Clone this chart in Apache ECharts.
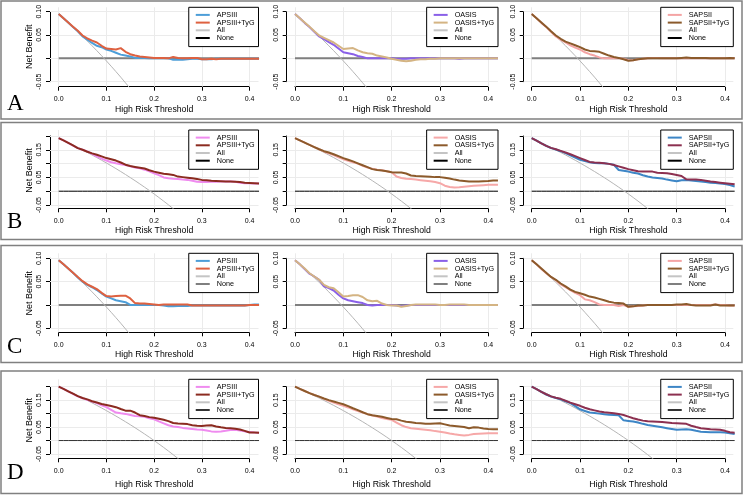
<!DOCTYPE html>
<html><head><meta charset="utf-8">
<script src="https://cdn.jsdelivr.net/npm/echarts@6/dist/echarts.min.js"></script>
<style>html,body{margin:0;padding:0;background:#fff}#c{width:744px;height:495px}</style>
</head><body><div id="c"></div>
<script>
// ---------------- DATA ----------------
const thresholds = [0.00,0.01,0.02,0.03,0.04,0.05,0.06,0.07,0.08,0.09,
  0.10,0.11,0.12,0.13,0.14,0.15,0.16,0.17,0.18,0.19,
  0.20,0.21,0.22,0.23,0.24,0.25,0.26,0.27,0.28,0.29,
  0.30,0.31,0.32,0.33,0.34,0.35,0.36,0.37,0.38,0.39,
  0.40,0.41,0.42];
const rowKeys = ['A','B','C','D'];
const modelNames = [['APSIII','APSIII+TyG'],['OASIS','OASIS+TyG'],['SAPSII','SAPSII+TyG']];
const allName = 'All', noneName = 'None';
const noneBenefit = 0;
const xTicks = [0,0.1,0.2,0.3,0.4];
const xTickLabels = ['0.0','0.1','0.2','0.3','0.4'];
const yTicksAC = [-0.05,0,0.05,0.10];
const yTickLabelsAC = ['-0.05','','0.05','0.10'];
const yTicksBD = [-0.05,0,0.05,0.10,0.15,0.20];
const yTickLabelsBD = ['-0.05','','0.05','','0.15',''];
const xTitle = 'High Risk Threshold';
const yTitle = 'Net Benefit';

// "All" strategy (treat all), per row
const A_All = [0.095,0.0859,0.0765,0.0670,0.0573,0.0474,0.0373,0.0270,0.0164,0.0056,-0.0055,-0.0168,-0.0284,-0.0402,-0.0524,-0.0647,-0.0774];
const B_All = [0.192,0.1838,0.1755,0.1670,0.1583,0.1495,0.1404,0.1312,0.1217,0.1121,0.1022,0.0921,0.0818,0.0713,0.0605,0.0494,0.0381,0.0265,0.0146,0.0025,-0.0100,-0.0228,-0.0359,-0.0493,-0.0632,-0.0773];
const C_All = [0.096,0.0869,0.0776,0.0681,0.0583,0.0484,0.0383,0.0280,0.0174,0.0066,-0.0044,-0.0157,-0.0273,-0.0391,-0.0512,-0.0635,-0.0762];
const D_All = [0.200,0.1919,0.1837,0.1753,0.1667,0.1579,0.1489,0.1398,0.1304,0.1209,0.1111,0.1011,0.0909,0.0805,0.0698,0.0588,0.0476,0.0361,0.0244,0.0123,0.0000,-0.0127,-0.0256,-0.0390,-0.0526,-0.0667,-0.0811];

// Row A
const A_APSIII = [0.095,0.086,0.077,0.067,0.058,0.047,0.040,0.033,0.027,0.024,
  0.019,0.016,0.012,0.008,0.006,0.004,0.001,0.001,0.001,0.000,
  0.000,0.000,0.000,0.000,-0.003,-0.003,-0.003,-0.002,-0.001,-0.001,
  -0.002,-0.002,-0.002,-0.001,-0.001,-0.001,-0.001,-0.001,-0.001,-0.001,
  -0.001,-0.001,-0.001];
const A_APSIII_TyG = [0.095,0.086,0.077,0.068,0.059,0.049,0.043,0.038,0.034,0.027,
  0.021,0.020,0.019,0.022,0.014,0.009,0.006,0.004,0.003,0.002,
  0.001,0.001,0.001,0.000,0.003,0.001,0.000,0.000,0.001,0.001,
  -0.002,-0.002,-0.001,-0.002,-0.001,-0.001,-0.001,-0.001,-0.001,-0.001,
  -0.001,-0.001,-0.001];
const A_OASIS = [0.095,0.086,0.076,0.067,0.057,0.047,0.041,0.035,0.029,0.021,
  0.013,0.011,0.009,0.005,0.003,0.000,0.000,0.000,0.000,0.000,
  0.000,-0.001,-0.001,-0.001,0.000,0.000,0.000,0.000,0.000,0.000,
  0.000,0.000,0.000,0.000,-0.001,0.000,0.000,0.000,0.000,0.000,
  0.000,0.000,0.000];
const A_OASIS_TyG = [0.095,0.086,0.077,0.068,0.058,0.049,0.044,0.039,0.034,0.027,
  0.020,0.021,0.022,0.017,0.013,0.011,0.010,0.006,0.004,0.002,
  -0.001,-0.003,-0.005,-0.006,-0.005,-0.003,-0.002,-0.002,-0.001,-0.001,
  0.000,0.000,0.000,0.000,0.000,0.000,0.000,0.000,0.000,0.000,
  0.000,0.000,0.000];
const A_SAPSII = [0.095,0.086,0.076,0.067,0.057,0.047,0.040,0.034,0.028,0.023,
  0.019,0.013,0.009,0.006,0.002,0.000,0.000,0.000,0.000,-0.001,
  -0.004,-0.004,-0.002,-0.001,0.000,0.001,0.001,0.000,0.000,0.000,
  0.000,0.000,0.000,0.001,0.000,0.000,0.000,0.000,0.000,0.000,
  0.000,0.000,0.000];
const A_SAPSII_TyG = [0.095,0.086,0.077,0.068,0.058,0.049,0.042,0.036,0.032,0.028,
  0.024,0.019,0.016,0.015,0.014,0.010,0.006,0.003,0.001,-0.002,
  -0.005,-0.004,-0.002,-0.001,0.000,0.000,0.000,0.000,0.000,0.000,
  0.000,0.001,0.002,0.001,0.001,0.001,0.001,0.000,0.000,0.000,
  0.000,0.001,0.000];

// Row B
const B_APSIII = [0.192,0.184,0.175,0.165,0.156,0.150,0.144,0.135,0.126,0.118,
  0.111,0.105,0.101,0.098,0.095,0.090,0.086,0.083,0.078,0.072,
  0.065,0.058,0.050,0.047,0.045,0.044,0.042,0.041,0.038,0.034,
  0.033,0.033,0.034,0.034,0.035,0.035,0.035,0.034,0.031,0.029,
  0.029,0.028,0.028];
const B_APSIII_TyG = [0.192,0.184,0.175,0.166,0.156,0.150,0.143,0.137,0.132,0.126,
  0.120,0.116,0.111,0.104,0.096,0.091,0.088,0.085,0.082,0.076,
  0.071,0.067,0.063,0.061,0.059,0.053,0.051,0.049,0.047,0.044,
  0.041,0.040,0.038,0.037,0.036,0.035,0.035,0.034,0.033,0.031,
  0.030,0.029,0.028];
const B_OASIS = [0.192,0.184,0.176,0.168,0.160,0.152,0.144,0.137,0.131,0.123,
  0.116,0.110,0.105,0.100,0.092,0.086,0.081,0.078,0.076,0.072,
  0.069,0.053,0.048,0.045,0.044,0.042,0.040,0.038,0.036,0.033,
  0.029,0.020,0.015,0.013,0.014,0.016,0.018,0.020,0.021,0.022,
  0.023,0.023,0.023];
const B_OASIS_TyG = [0.192,0.184,0.176,0.168,0.160,0.152,0.145,0.140,0.134,0.127,
  0.120,0.114,0.108,0.101,0.094,0.087,0.080,0.077,0.075,0.072,
  0.069,0.068,0.068,0.064,0.057,0.055,0.054,0.053,0.052,0.051,
  0.051,0.049,0.046,0.042,0.039,0.037,0.035,0.035,0.035,0.036,
  0.037,0.039,0.039];
const B_SAPSII = [0.192,0.183,0.173,0.164,0.156,0.151,0.145,0.138,0.130,0.122,
  0.114,0.109,0.105,0.102,0.101,0.101,0.099,0.096,0.077,0.074,
  0.071,0.067,0.064,0.058,0.053,0.050,0.048,0.046,0.042,0.039,
  0.036,0.040,0.041,0.039,0.037,0.035,0.033,0.031,0.030,0.028,
  0.026,0.022,0.017];
const B_SAPSII_TyG = [0.192,0.183,0.173,0.164,0.157,0.152,0.146,0.140,0.134,0.127,
  0.120,0.113,0.106,0.104,0.103,0.101,0.099,0.095,0.090,0.085,
  0.080,0.076,0.072,0.071,0.071,0.071,0.067,0.066,0.065,0.062,
  0.059,0.055,0.043,0.042,0.042,0.041,0.038,0.035,0.033,0.031,
  0.029,0.027,0.025];

// Row C
const C_APSIII = [0.096,0.087,0.078,0.069,0.059,0.050,0.043,0.038,0.032,0.025,
  0.018,0.014,0.010,0.008,0.006,0.000,0.000,0.000,0.000,0.000,
  0.000,0.000,-0.001,-0.003,-0.003,-0.002,-0.002,-0.002,-0.001,-0.001,
  -0.001,-0.001,-0.001,-0.001,-0.001,-0.001,-0.001,-0.001,-0.001,-0.001,
  0.000,0.001,0.001];
const C_APSIII_TyG = [0.096,0.087,0.078,0.069,0.060,0.051,0.044,0.039,0.034,0.026,
  0.019,0.018,0.019,0.020,0.020,0.014,0.004,0.003,0.003,0.002,
  0.001,0.000,0.001,0.001,0.001,0.001,0.001,0.001,-0.001,-0.001,
  -0.001,-0.001,-0.001,-0.001,-0.001,-0.001,-0.001,-0.001,-0.001,-0.001,
  0.000,0.000,0.000];
const C_OASIS = [0.096,0.087,0.077,0.067,0.061,0.054,0.040,0.036,0.031,0.022,
  0.014,0.010,0.008,0.006,0.004,0.000,-0.001,0.000,0.000,0.000,
  0.000,-0.001,-0.002,-0.001,0.000,0.000,0.000,0.000,0.000,0.000,
  0.000,0.000,0.000,0.000,0.000,0.000,0.000,0.000,0.000,0.000,
  0.000,0.000,0.000];
const C_OASIS_TyG = [0.096,0.087,0.078,0.068,0.061,0.054,0.043,0.038,0.036,0.027,
  0.018,0.019,0.021,0.021,0.017,0.010,0.008,0.009,0.003,0.000,
  -0.001,-0.001,-0.004,-0.002,0.000,0.001,0.001,0.001,0.001,0.001,
  0.000,0.000,0.001,0.001,0.001,0.001,0.000,0.000,0.000,0.000,
  0.000,0.000,0.000];
const C_SAPSII = [0.096,0.087,0.077,0.068,0.060,0.053,0.044,0.038,0.032,0.026,
  0.021,0.012,0.010,0.006,0.001,0.000,0.000,0.000,-0.002,0.000,
  -0.004,-0.003,-0.002,-0.001,0.000,0.000,0.000,0.000,0.000,0.000,
  0.000,0.000,0.000,0.000,0.000,0.000,0.000,0.000,0.001,0.000,
  0.000,-0.001,-0.001];
const C_SAPSII_TyG = [0.096,0.087,0.078,0.069,0.060,0.054,0.046,0.040,0.033,0.028,
  0.025,0.022,0.018,0.016,0.013,0.010,0.007,0.005,0.004,0.003,
  -0.004,-0.003,-0.001,-0.001,0.000,0.000,0.000,0.000,0.000,0.000,
  0.001,0.001,0.002,0.000,-0.001,-0.001,-0.001,-0.001,0.001,-0.001,
  -0.001,-0.001,-0.001];

// Row D
const D_APSIII = [0.200,0.192,0.183,0.173,0.164,0.157,0.151,0.145,0.139,0.131,
  0.124,0.114,0.104,0.101,0.099,0.095,0.091,0.090,0.088,0.083,
  0.079,0.071,0.064,0.057,0.052,0.050,0.047,0.045,0.043,0.041,
  0.040,0.037,0.034,0.033,0.034,0.036,0.039,0.040,0.037,0.034,
  0.032,0.030,0.029];
const D_APSIII_TyG = [0.200,0.192,0.183,0.174,0.165,0.158,0.153,0.146,0.141,0.136,
  0.132,0.128,0.124,0.117,0.111,0.111,0.104,0.094,0.091,0.087,
  0.085,0.081,0.077,0.072,0.065,0.063,0.062,0.061,0.057,0.055,
  0.054,0.056,0.057,0.052,0.049,0.047,0.046,0.044,0.041,0.036,
  0.030,0.030,0.029];
const D_OASIS = [0.200,0.192,0.184,0.176,0.169,0.163,0.155,0.148,0.141,0.135,
  0.129,0.123,0.116,0.110,0.104,0.098,0.093,0.089,0.084,0.080,
  0.077,0.067,0.057,0.050,0.046,0.044,0.042,0.040,0.038,0.035,
  0.033,0.030,0.026,0.023,0.021,0.019,0.021,0.024,0.025,0.026,
  0.027,0.027,0.027];
const D_OASIS_TyG = [0.200,0.192,0.184,0.176,0.169,0.163,0.156,0.150,0.145,0.140,
  0.135,0.128,0.120,0.113,0.105,0.098,0.094,0.091,0.088,0.084,
  0.080,0.079,0.074,0.070,0.068,0.065,0.064,0.062,0.062,0.063,
  0.064,0.060,0.056,0.054,0.052,0.050,0.046,0.049,0.048,0.045,
  0.043,0.042,0.042];
const D_SAPSII = [0.200,0.191,0.181,0.171,0.163,0.158,0.153,0.146,0.139,0.128,
  0.116,0.110,0.104,0.102,0.100,0.098,0.096,0.095,0.094,0.075,
  0.073,0.071,0.067,0.062,0.058,0.055,0.052,0.049,0.046,0.043,
  0.040,0.041,0.042,0.040,0.036,0.033,0.032,0.031,0.031,0.031,
  0.030,0.027,0.024];
const D_SAPSII_TyG = [0.200,0.191,0.181,0.172,0.164,0.159,0.155,0.148,0.141,0.135,
  0.129,0.122,0.116,0.112,0.108,0.105,0.103,0.101,0.099,0.095,
  0.089,0.083,0.078,0.074,0.072,0.071,0.070,0.069,0.067,0.065,
  0.064,0.063,0.062,0.055,0.050,0.046,0.044,0.042,0.041,0.040,
  0.036,0.031,0.029];

const rowData = [
  {all: A_All, models: [[A_APSIII, A_APSIII_TyG],[A_OASIS, A_OASIS_TyG],[A_SAPSII, A_SAPSII_TyG]]},
  {all: B_All, models: [[B_APSIII, B_APSIII_TyG],[B_OASIS, B_OASIS_TyG],[B_SAPSII, B_SAPSII_TyG]]},
  {all: C_All, models: [[C_APSIII, C_APSIII_TyG],[C_OASIS, C_OASIS_TyG],[C_SAPSII, C_SAPSII_TyG]]},
  {all: D_All, models: [[D_APSIII, D_APSIII_TyG],[D_OASIS, D_OASIS_TyG],[D_SAPSII, D_SAPSII_TyG]]}
];

// ---------------- STYLE / LAYOUT ----------------
const FONT = '"Liberation Sans", Arial, Helvetica, sans-serif';
const colorsAC = [['#4d9ed8','#de6140'],['#8a60e8','#d4b483'],['#f4a4a4','#8b5a2b']];
const colorsBD = [['#ef8bef','#8b2b20'],['#f6a8a8','#8c5a2b'],['#3d86c6','#8c3050']];
const allColor = '#b5b5b5';
const colL = [
  {axisX:50, x0:58.7, x4:249.5, right:258.5},
  {axisX:286.7, x0:295, x4:488.3, right:498},
  {axisX:523.7, x0:531.7, x4:725, right:733.3}
];
const rowL = [
  {top:7.3, yT:11.7, yB:81.7, axisY:86.7, ymin:-0.05, ymax:0.10, nameGap:18, none:'#7f7f7f', noneW:2, noneLeg:'#000', letterY:103.5, frame:[1,119]},
  {top:130, yT:136, yB:205, axisY:208.3, ymin:-0.05, ymax:0.20, nameGap:18, none:'#000', noneW:1, noneLeg:'#000', letterY:222.2, frame:[122.5,239.5]},
  {top:253.3, yT:258.3, yB:328.3, axisY:332.3, ymin:-0.05, ymax:0.10, nameGap:18, none:'#7f7f7f', noneW:2, noneLeg:'#7f7f7f', letterY:346.7, frame:[245.5,362.5]},
  {top:379.3, yT:386.7, yB:454, axisY:458.3, ymin:-0.05, ymax:0.20, nameGap:22, none:'#333', noneW:1, noneLeg:'#333', letterY:472.5, frame:[371,493.5]}
];

function lookup(ticks, labels, v) {
  for (let i = 0; i < ticks.length; i++) if (Math.abs(ticks[i] - v) < 1e-9) return labels[i];
  return '';
}

const option = {animation:false, backgroundColor:'#fff', textStyle:{fontFamily:FONT},
  grid:[], xAxis:[], yAxis:[], series:[], legend:[], graphic:[]};

rowL.forEach((R, r) => {
  const rk = rowKeys[r];
  const yTicks = R.ymax > 0.15 ? yTicksBD : yTicksAC;
  const yLabels = R.ymax > 0.15 ? yTickLabelsBD : yTickLabelsAC;
  const colors = (r % 2 === 0) ? colorsAC : colorsBD;
  colL.forEach((C, c) => {
    const k = r * 3 + c;
    const gP = 2 * k, gT = 2 * k + 1;
    const pxX = (C.x4 - C.x0) / 0.4;
    const pxY = (R.yB - R.yT) / (R.ymax - R.ymin);
    option.grid.push({left:C.axisX, top:R.top, width:C.right - C.axisX, height:R.axisY - R.top});
    option.grid.push({left:C.x0, top:R.yT, width:C.x4 - C.x0, height:R.yB - R.yT});
    option.xAxis.push({gridIndex:gP, type:'value', show:false,
      min:-(C.x0 - C.axisX) / pxX, max:(C.right - C.x0) / pxX});
    option.yAxis.push({gridIndex:gP, type:'value', show:false,
      min:R.ymin - (R.axisY - R.yB) / pxY, max:R.ymax + (R.yT - R.top) / pxY});
    option.xAxis.push({gridIndex:gT, type:'value', min:0, max:0.4, interval:0.1, position:'bottom',
      offset:R.axisY - R.yB,
      axisLine:{show:true, onZero:false, lineStyle:{color:'#000', width:1}},
      axisTick:{show:true, length:4, lineStyle:{color:'#000', width:1}},
      axisLabel:{show:true, interval:0, fontSize:7, margin:9, color:'#000', fontFamily:FONT,
        formatter:v => lookup(xTicks, xTickLabels, v)},
      splitLine:{show:false},
      name:xTitle, nameLocation:'middle', nameGap:R.nameGap,
      nameTextStyle:{fontSize:8.7, color:'#000', fontFamily:FONT}});
    option.yAxis.push({gridIndex:gT, type:'value', min:R.ymin, max:R.ymax, interval:0.05, position:'left',
      offset:C.x0 - C.axisX,
      axisLine:{show:true, onZero:false, lineStyle:{color:'#000', width:1}},
      axisTick:{show:true, length:4, lineStyle:{color:'#000', width:1}},
      axisLabel:{show:true, interval:0, rotate:90, fontSize:7, margin:7.5, color:'#000', fontFamily:FONT,
        formatter:v => lookup(yTicks, yLabels, v)},
      splitLine:{show:false},
      name:c === 0 ? yTitle : '', nameLocation:'middle', nameRotate:90, nameGap:16,
      nameTextStyle:{fontSize:9, color:'#000', fontFamily:FONT}});

    const pre = rk + (c + 1) + '|';
    const names = [pre + modelNames[c][0], pre + modelNames[c][1], pre + allName, pre + noneName];
    const D = rowData[r];
    // None (with gridlines as markLine)
    option.series.push({type:'line', name:names[3], xAxisIndex:gP, yAxisIndex:gP, z:2,
      symbol:'none', silent:true, color:R.none,
      lineStyle:{color:R.none, width:R.noneW},
      data:thresholds.map(t => [t, noneBenefit]),
      markLine:{silent:true, z:1, symbol:['none','none'], label:{show:false}, animation:false,
        lineStyle:{color:'#ebebeb', width:1, type:'solid'},
        emphasis:{disabled:true},
        data:xTicks.map(v => ({xAxis:v})).concat(yTicks.map(v => ({yAxis:v})))}});
    // All
    option.series.push({type:'line', name:names[2], xAxisIndex:gP, yAxisIndex:gP, z:3,
      symbol:'none', silent:true, color:allColor,
      lineStyle:{color:allColor, width:1},
      data:D.all.map((v, i) => [thresholds[i], v])});
    // Models
    [0, 1].forEach(m => {
      option.series.push({type:'line', name:names[m], xAxisIndex:gP, yAxisIndex:gP, z:4 + m,
        symbol:'none', silent:true, color:colors[c][m],
        lineStyle:{color:colors[c][m], width:2},
        data:D.models[c][m].map((v, i) => [thresholds[i], v])});
    });
    option.legend.push({orient:'vertical', right:744 - C.right, top:R.top,
      padding:[4, 4, 5, 7], itemGap:0.5, itemWidth:14, itemHeight:2, icon:'rect',
      borderColor:'#000', borderWidth:1, borderRadius:0, backgroundColor:'#fff',
      selectedMode:false,
      data:[
        {name:names[0], itemStyle:{color:colors[c][0]}},
        {name:names[1], itemStyle:{color:colors[c][1]}},
        {name:names[2], itemStyle:{color:'#c4c4c4'}},
        {name:names[3], itemStyle:{color:R.noneLeg}}],
      formatter:n => n.split('|')[1],
      textStyle:{fontSize:7.2, color:'#000', fontFamily:FONT, padding:[0, 0, 0, 2], lineHeight:7.2}});
  });
  option.graphic.push({type:'rect', silent:true, z:0,
    shape:{x:1, y:R.frame[0], width:741, height:R.frame[1] - R.frame[0]},
    style:{fill:'none', stroke:'#808080', lineWidth:1.5}});
  option.graphic.push({type:'text', silent:true, x:7, y:R.letterY,
    style:{text:rk, font:'23px "Liberation Serif", "Times New Roman", serif', fill:'#000', verticalAlign:'middle'}});
});

const chart = echarts.init(document.getElementById('c'), null, {renderer:'canvas'});
chart.setOption(option);
</script>
</body></html>
